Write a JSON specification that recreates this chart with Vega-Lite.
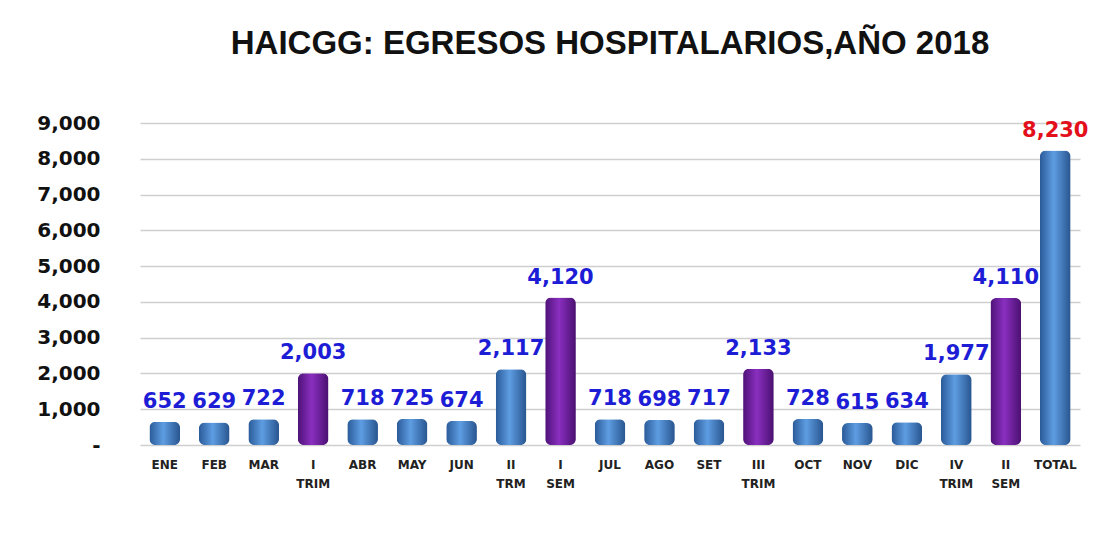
{
  "$schema": "https://vega.github.io/schema/vega-lite/v6.json",
  "autosize": {"type": "none"},
  "width": 940,
  "height": 322,
  "padding": {"left": 140, "top": 123, "right": 28, "bottom": 92},
  "background": "white",
  "config": {"view": {"stroke": null}},
  "title": {
    "text": "HAICGG: EGRESOS HOSPITALARIOS,AÑO 2018",
    "font": "Liberation Sans",
    "fontSize": 33,
    "fontWeight": "bold",
    "color": "#111111",
    "anchor": "middle",
    "offset": 52
  },
  "data": {
    "values": [
      {"mes": "ENE", "valor": 652, "tipo": "b"},
      {"mes": "FEB", "valor": 629, "tipo": "b"},
      {"mes": "MAR", "valor": 722, "tipo": "b"},
      {"mes": "I TRIM", "valor": 2003, "tipo": "p"},
      {"mes": "ABR", "valor": 718, "tipo": "b"},
      {"mes": "MAY", "valor": 725, "tipo": "b"},
      {"mes": "JUN", "valor": 674, "tipo": "b"},
      {"mes": "II TRM", "valor": 2117, "tipo": "b"},
      {"mes": "I SEM", "valor": 4120, "tipo": "p"},
      {"mes": "JUL", "valor": 718, "tipo": "b"},
      {"mes": "AGO", "valor": 698, "tipo": "b"},
      {"mes": "SET", "valor": 717, "tipo": "b"},
      {"mes": "III TRIM", "valor": 2133, "tipo": "p"},
      {"mes": "OCT", "valor": 728, "tipo": "b"},
      {"mes": "NOV", "valor": 615, "tipo": "b"},
      {"mes": "DIC", "valor": 634, "tipo": "b"},
      {"mes": "IV TRIM", "valor": 1977, "tipo": "b"},
      {"mes": "II SEM", "valor": 4110, "tipo": "p"},
      {"mes": "TOTAL", "valor": 8230, "tipo": "b"}
    ]
  },
  "encoding": {
    "x": {
      "field": "mes",
      "type": "nominal",
      "sort": ["ENE", "FEB", "MAR", "I TRIM", "ABR", "MAY", "JUN", "II TRM", "I SEM", "JUL", "AGO", "SET", "III TRIM", "OCT", "NOV", "DIC", "IV TRIM", "II SEM", "TOTAL"],
      "scale": {
        "domain": ["ENE", "FEB", "MAR", "I TRIM", "ABR", "MAY", "JUN", "II TRM", "I SEM", "JUL", "AGO", "SET", "III TRIM", "OCT", "NOV", "DIC", "IV TRIM", "II SEM", "TOTAL"],
        "paddingInner": 0.38,
        "paddingOuter": 0.19
      },
      "axis": {
        "title": null,
        "labelAngle": 0,
        "labelExpr": "split(datum.label, ' ')",
        "labelFont": "DejaVu Sans",
        "labelFontWeight": "bold",
        "labelFontSize": 12,
        "labelColor": "#222222",
        "labelLineHeight": 19,
        "labelPadding": 14,
        "ticks": false,
        "domain": false
      }
    },
    "y": {
      "field": "valor",
      "type": "quantitative",
      "scale": {"domain": [0, 9000], "nice": false},
      "axis": {
        "title": null,
        "values": [0, 1000, 2000, 3000, 4000, 5000, 6000, 7000, 8000, 9000],
        "labelOverlap": false,
        "labelExpr": "datum.value == 0 ? '-' : format(datum.value, ',')",
        "labelFont": "DejaVu Sans",
        "labelFontWeight": "bold",
        "labelFontSize": 20,
        "labelColor": "#111111",
        "labelPadding": 40,
        "ticks": false,
        "domain": false,
        "grid": true,
        "gridColor": "#cfcfcf",
        "gridWidth": 1.5
      }
    }
  },
  "layer": [
    {
      "transform": [{"filter": "datum.tipo == 'b'"}],
      "mark": {
        "type": "bar",
        "cornerRadius": 6,
        "color": {
          "gradient": "linear",
          "x1": 0, "y1": 0, "x2": 1, "y2": 0,
          "stops": [
            {"offset": 0, "color": "#2a5a98"},
            {"offset": 0.45, "color": "#5e9de2"},
            {"offset": 1, "color": "#28558f"}
          ]
        }
      }
    },
    {
      "transform": [{"filter": "datum.tipo == 'p'"}],
      "mark": {
        "type": "bar",
        "cornerRadius": 6,
        "color": {
          "gradient": "linear",
          "x1": 0, "y1": 0, "x2": 1, "y2": 0,
          "stops": [
            {"offset": 0, "color": "#4e1277"},
            {"offset": 0.45, "color": "#8a2fc0"},
            {"offset": 1, "color": "#4a1070"}
          ]
        }
      }
    },
    {
      "mark": {
        "type": "text",
        "font": "DejaVu Sans",
        "fontWeight": "bold",
        "fontSize": 21,
        "baseline": "alphabetic",
        "dy": -14
      },
      "encoding": {
        "text": {"field": "valor", "type": "quantitative", "format": ","},
        "color": {
          "condition": {"test": "datum.mes == 'TOTAL'", "value": "#e3101c"},
          "value": "#1d1dd6"
        }
      }
    }
  ]
}
